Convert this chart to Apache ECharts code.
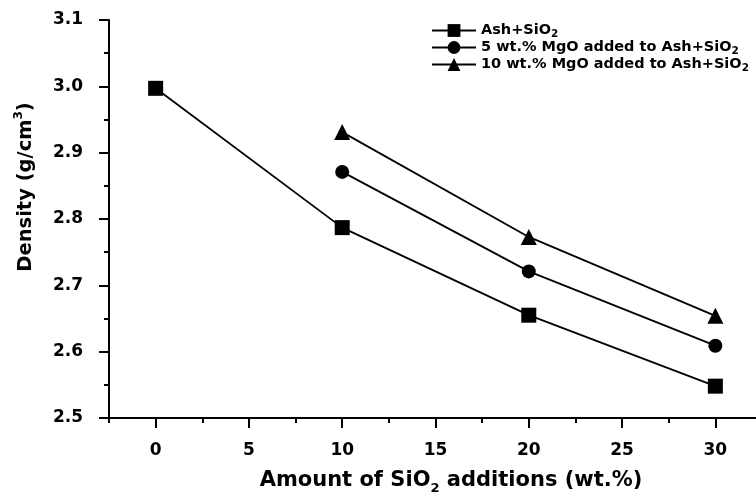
<!DOCTYPE html>
<html><head><meta charset="utf-8">
<script src="https://cdn.jsdelivr.net/npm/echarts@6/dist/echarts.min.js"></script>
<style>html,body{margin:0;padding:0;background:#fff}#c{width:756px;height:496px}</style>
</head><body><div id="c"></div>
<script>
// ---- data ----
const xAsh = [0, 10, 20, 30];
const ashSiO2 = [2.997, 2.787, 2.655, 2.548];
const xMgO = [10, 20, 30];
const mgo5 = [2.871, 2.721, 2.609];
const mgo10 = [2.931, 2.773, 2.654];
const seriesNames = ['Ash+SiO2', '5 wt.% MgO added to Ash+SiO2', '10 wt.% MgO added to Ash+SiO2'];
const xMajorTicks = [0, 5, 10, 15, 20, 25, 30];
const xMinorTicks = [-2.5, 2.5, 7.5, 12.5, 17.5, 22.5, 27.5, 32.5];
const xMin = -2.5, xMax = 32.5;
const yMin = 2.5, yMax = 3.1, yStep = 0.1;
const xTitle = 'Amount of SiO{sub|2} additions (wt.%)';
const yTitle = 'Density (g/cm{sup|3})';

const FONT = 'DejaVu Sans';
const pairs = (xs, ys) => xs.map((x, i) => [x, ys[i]]);
const black = '#000';

const chart = echarts.init(document.getElementById('c'), null, {renderer: 'canvas'});
const lineCommon = {
  type: 'line',
  xAxisIndex: 0, yAxisIndex: 0,
  lineStyle: {color: black, width: 1.8},
  itemStyle: {color: black, borderWidth: 0},
  emphasis: {disabled: true},
  z: 5
};
chart.setOption({
  animation: false,
  backgroundColor: '#fff',
  grid: {left: 109, top: 20, width: 653, bottom: 78, containLabel: false, outerBoundsMode: 'none'},
  legend: {
    left: 431, top: 21, orient: 'vertical', padding: 0,
    itemWidth: 44, itemHeight: 16, itemGap: -2,
    data: seriesNames,
    formatter: n => n.replace(/SiO2$/, 'SiO{sub|2}'),
    textStyle: {
      fontFamily: FONT, fontWeight: 'bold', fontSize: 14.5, color: black, lineHeight: 15,
      rich: {sub: {fontFamily: FONT, fontWeight: 'bold', fontSize: 10.5, color: black, lineHeight: 19, verticalAlign: 'bottom'}}
    }
  },
  xAxis: [{
    type: 'value', min: xMin, max: xMax, position: 'bottom',
    name: xTitle, nameLocation: 'middle', nameGap: 49,
    nameTextStyle: {
      fontFamily: FONT, fontWeight: 'bold', fontSize: 21, color: black, lineHeight: 22, padding: [0, 0, 0, 31],
      rich: {sub: {fontFamily: FONT, fontWeight: 'bold', fontSize: 13, color: black, lineHeight: 28, verticalAlign: 'bottom'}}
    },
    axisLine: {show: true, onZero: false, lineStyle: {color: black, width: 2}},
    axisTick: {show: true, inside: false, length: 10, customValues: xMajorTicks, lineStyle: {color: black, width: 2}},
    axisLabel: {show: true, margin: 24, customValues: xMajorTicks, fontFamily: FONT, fontWeight: 'bold', fontSize: 17, color: black},
    splitLine: {show: false}
  }, {
    type: 'value', min: xMin, max: xMax, position: 'bottom',
    axisLine: {show: false},
    axisTick: {show: true, inside: false, length: 5, customValues: xMinorTicks, lineStyle: {color: black, width: 2}},
    axisLabel: {show: false},
    splitLine: {show: false}
  }],
  yAxis: {
    type: 'value', min: yMin, max: yMax, interval: yStep,
    name: yTitle, nameLocation: 'middle', nameGap: 70, nameRotate: 90,
    nameTextStyle: {
      fontFamily: FONT, fontWeight: 'bold', fontSize: 19.5, color: black, lineHeight: 20, padding: [0, 0, 0, 64],
      rich: {sup: {fontFamily: FONT, fontWeight: 'bold', fontSize: 12, color: black, lineHeight: 26, verticalAlign: 'top'}}
    },
    axisLine: {show: true, onZero: false, lineStyle: {color: black, width: 2}},
    axisTick: {show: true, inside: false, length: 10, lineStyle: {color: black, width: 2}},
    minorTick: {show: true, splitNumber: 2, length: 5, lineStyle: {color: black, width: 2}},
    axisLabel: {margin: 26, formatter: v => v.toFixed(1), fontFamily: FONT, fontWeight: 'bold', fontSize: 17, color: black},
    splitLine: {show: false}, minorSplitLine: {show: false}
  },
  series: [
    Object.assign({}, lineCommon, {name: seriesNames[0], data: pairs(xAsh, ashSiO2), symbol: 'rect', symbolSize: 15}),
    Object.assign({}, lineCommon, {name: seriesNames[1], data: pairs(xMgO, mgo5), symbol: 'circle', symbolSize: 14}),
    Object.assign({}, lineCommon, {name: seriesNames[2], data: pairs(xMgO, mgo10), symbol: 'triangle', symbolSize: 16})
  ]
});
</script>
</body></html>
